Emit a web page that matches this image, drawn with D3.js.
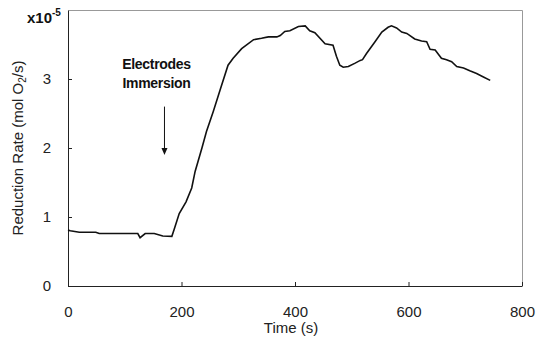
<!DOCTYPE html>
<html>
<head>
  <meta charset="utf-8">
  <title>Reduction Rate</title>
  <script src="https://d3js.org/d3.v7.min.js"></script>
  <style>
    body { margin: 0; background: #fff; font-family: "Liberation Sans", Arial, sans-serif; }
    .tick text { font-size: 15px; fill: #222; }
    .line { fill: none; stroke: #111; stroke-width: 1.6; }
  </style>
</head>
<body>
  <svg width="537" height="341"></svg>
  <script>
    // time in s, rate in 1e-5 mol O2/s
    const times = [0, 4, 20, 49, 55, 72, 114, 123, 127, 136, 152, 167, 183, 187, 196, 208, 218, 224,
      236, 244, 256, 268, 282, 291, 306, 327, 341, 353, 368, 374, 382, 391, 406, 418, 426, 435,
      453, 467, 473, 479, 485, 494, 506, 515, 519, 526, 541, 553, 564, 570, 579, 588, 597, 611,
      623, 632, 638, 647, 658, 667, 676, 685, 697, 708, 720, 732, 744];
    const rates = [0.81, 0.80, 0.78, 0.78, 0.76, 0.76, 0.76, 0.76, 0.70, 0.76, 0.76, 0.725, 0.72, 0.82, 1.05, 1.22, 1.42, 1.66,
      2.00, 2.24, 2.53, 2.84, 3.20, 3.30, 3.44, 3.57, 3.59, 3.61, 3.61, 3.63, 3.69, 3.70, 3.76, 3.77, 3.70, 3.67,
      3.51, 3.49, 3.33, 3.20, 3.17, 3.18, 3.23, 3.27, 3.28, 3.37, 3.54, 3.68, 3.75, 3.77, 3.74, 3.68, 3.66, 3.58,
      3.55, 3.54, 3.43, 3.42, 3.30, 3.28, 3.25, 3.18, 3.16, 3.12, 3.08, 3.03, 2.98];
    const xTicks = [0, 200, 400, 600, 800];
    const yTicks = [0, 1, 2, 3];
    const annotation = { t: 170, from: 2.6, to: 1.9, lines: ["Electrodes", "Immersion"] };

    const data = times.map((t, i) => ({ t: t, r: rates[i] }));

    const svg = d3.select("svg"),
          margin = {top: 10, right: 15, bottom: 55, left: 68},
          width = +svg.attr("width") - margin.left - margin.right,
          height = +svg.attr("height") - margin.top - margin.bottom;

    const g = svg.append("g").attr("transform", `translate(${margin.left},${margin.top})`);

    const x = d3.scaleLinear().domain([0, 800]).range([0, width]);
    const y = d3.scaleLinear().domain([0, 4]).range([height, 0]);

    // frame (top/right in gray)
    g.append("path")
      .attr("d", `M0.5,0.5H${width + 0.5}V${height}`)
      .attr("fill", "none").attr("stroke", "#999");

    const xAxis = g.append("g")
      .attr("transform", `translate(0,${height})`)
      .call(d3.axisBottom(x).tickValues(xTicks).tickFormat(d3.format("d"))
        .tickSizeInner(-4).tickSizeOuter(0).tickPadding(20));
    const yAxis = g.append("g")
      .call(d3.axisLeft(y).tickValues(yTicks).tickFormat(d3.format("d"))
        .tickSizeInner(-4).tickSizeOuter(0).tickPadding(17));
    [xAxis, yAxis].forEach(a => {
      a.select(".domain").attr("stroke", "#222");
      a.selectAll(".tick line").attr("stroke", "#222");
      a.attr("font-family", null).attr("font-size", null);
    });

    g.append("path")
      .datum(data)
      .attr("class", "line")
      .attr("d", d3.line().x(d => x(d.t)).y(d => y(d.r)));

    // annotation
    const ann = g.append("g");
    annotation.lines.forEach((s, i) => {
      ann.append("text")
        .attr("x", x(annotation.t) - 8).attr("y", 59 + i * 19)
        .attr("text-anchor", "middle")
        .attr("font-size", 14).attr("font-weight", "bold")
        .attr("letter-spacing", -0.3)
        .attr("fill", "#111")
        .text(s);
    });
    const ax = x(annotation.t);
    ann.append("line")
      .attr("x1", ax).attr("x2", ax)
      .attr("y1", y(annotation.from)).attr("y2", y(annotation.to) - 6)
      .attr("stroke", "#111").attr("stroke-width", 1);
    ann.append("path")
      .attr("d", `M${ax - 3},${y(annotation.to) - 7}L${ax},${y(annotation.to)}L${ax + 3},${y(annotation.to) - 7}Z`)
      .attr("fill", "#111");

    // exponent label
    const ex = svg.append("text")
      .attr("x", 27).attr("y", 23)
      .attr("font-size", 15).attr("font-weight", "bold").attr("fill", "#111");
    ex.append("tspan").text("x10");
    ex.append("tspan").attr("dy", -7).attr("font-size", 10).text("-5");

    // axis titles
    svg.append("text")
      .attr("x", margin.left + width / 2 - 4).attr("y", 333)
      .attr("text-anchor", "middle")
      .attr("font-size", 15).attr("fill", "#222")
      .text("Time (s)");

    const yl = svg.append("text")
      .attr("transform", `translate(23,${148}) rotate(-90)`)
      .attr("text-anchor", "middle")
      .attr("font-size", 15).attr("fill", "#222");
    yl.append("tspan").text("Reduction Rate (mol O");
    yl.append("tspan").attr("font-size", 10).attr("dy", 3).text("2");
    yl.append("tspan").attr("dy", -3).text("/s)");
  </script>
</body>
</html>
